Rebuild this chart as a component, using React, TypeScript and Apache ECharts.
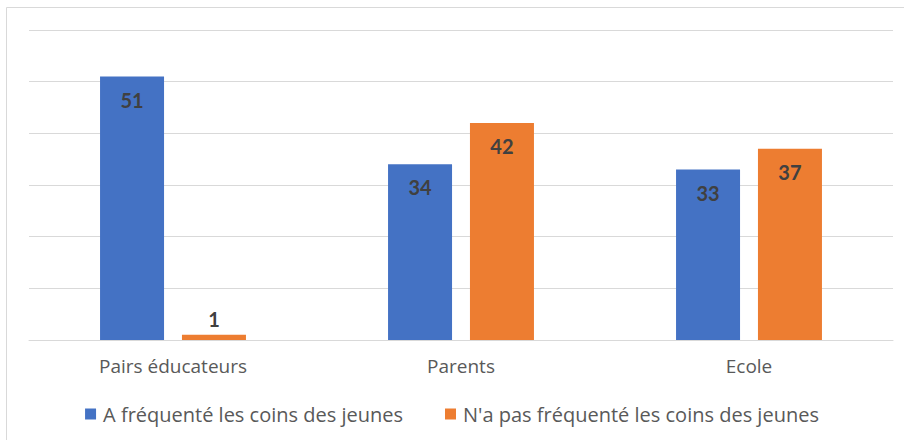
import React, { useEffect, useRef } from "react";
import * as echarts from "echarts";

const categories = ["Pairs éducateurs", "Parents", "Ecole"];
const seriesNames = ["A fréquenté les coins des jeunes", "N'a pas fréquenté les coins des jeunes"];
const frequente = [51, 34, 33];
const nonFrequente = [1, 42, 37];
const colors = ["#4472C4", "#ED7D31"];

const FONT = "'Open Sans', Lato, sans-serif";
const LABEL_FONT = "Lato, 'Open Sans', sans-serif";

function toData(values: number[]) {
  return values.map((v) =>
    v < 5
      ? { value: v, label: { position: "top", distance: 6 } }
      : { value: v }
  );
}

export default function App() {
  const ref = useRef<HTMLDivElement>(null);
  useEffect(() => {
    document.body.style.margin = "0";
    const chart = echarts.init(ref.current!, null, { renderer: "svg" });
    const labelCfg = {
      show: true,
      position: "insideTop",
      distance: 13,
      color: "#404040",
      fontSize: 20,
      fontWeight: "bold",
      fontFamily: LABEL_FONT,
    };
    chart.setOption({
      animation: false,
      backgroundColor: "#ffffff",
      graphic: [
        {
          type: "rect",
          shape: { x: 6.5, y: 7.5, width: 910, height: 450 },
          style: { fill: "none", stroke: "#d9d9d9", lineWidth: 1 },
          silent: true,
        },
      ],
      grid: { left: 29, right: 11, top: 30, bottom: 100, containLabel: false },
      legend: {
        bottom: 11,
        left: "center",
        icon: "rect",
        itemWidth: 11,
        itemHeight: 11,
        itemGap: 42,
        textStyle: { fontSize: 20, color: "#595959", fontFamily: FONT, padding: [0, 0, 0, 2] },
        data: seriesNames,
      },
      xAxis: {
        type: "category",
        data: categories,
        axisLine: { show: true, lineStyle: { color: "#d9d9d9", width: 1 } },
        axisTick: { show: false },
        axisLabel: { color: "#595959", fontSize: 19, fontFamily: FONT, margin: 16 },
      },
      yAxis: {
        type: "value",
        min: 0,
        max: 60,
        interval: 10,
        axisLabel: { show: false },
        axisLine: { show: false },
        axisTick: { show: false },
        splitLine: { lineStyle: { color: "#d9d9d9", width: 1 } },
      },
      series: [
        {
          name: seriesNames[0],
          type: "bar",
          data: toData(frequente),
          barWidth: 64,
          barGap: "28%",
          itemStyle: { color: colors[0] },
          label: labelCfg,
        },
        {
          name: seriesNames[1],
          type: "bar",
          data: toData(nonFrequente),
          barWidth: 64,
          barGap: "28%",
          itemStyle: { color: colors[1] },
          label: labelCfg,
        },
      ],
    });
    return () => chart.dispose();
  }, []);
  return <div ref={ref} style={{ width: 904, height: 440 }} />;
}
